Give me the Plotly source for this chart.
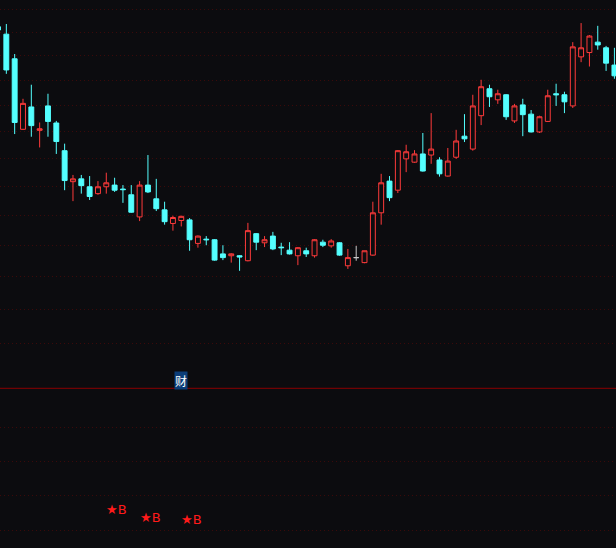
import plotly.graph_objects as go

# ---------------- data ----------------
opens = [16.62, 16.46, 15.94, 14.54, 14.97, 14.52, 14.99, 14.66, 14.14, 13.58,
         13.63, 13.49, 13.37, 13.49, 13.52, 13.45, 13.35, 12.97, 13.52, 13.28,
         13.09, 12.86, 12.91, 12.92, 12.53, 12.60, 12.59, 12.36, 12.33, 12.33,
         12.25, 12.69, 12.54, 12.65, 12.47, 12.42, 12.33, 12.41, 12.33, 12.55,
         12.49, 12.54, 12.17, 12.30, 12.22, 12.34, 13.04, 13.59, 13.43, 13.99,
         13.93, 14.08, 14.06, 13.97, 13.68, 14.02, 14.41, 14.17, 14.80, 15.33,
         15.11, 15.21, 14.70, 15.01, 14.83, 14.49, 14.69, 15.23, 15.21, 14.99,
         15.98, 16.07, 16.29, 16.17, 15.81]
highs = [16.64, 16.68, 16.04, 15.13, 15.41, 14.67, 15.23, 14.70, 14.27, 13.70,
         13.70, 13.68, 13.59, 13.74, 13.65, 13.52, 13.52, 13.59, 14.06, 13.63,
         13.23, 12.99, 12.99, 12.95, 12.66, 12.65, 12.60, 12.50, 12.37, 12.34,
         12.87, 12.70, 12.65, 12.72, 12.54, 12.55, 12.47, 12.46, 12.60, 12.59,
         12.60, 12.55, 12.44, 12.49, 12.41, 13.23, 13.72, 13.68, 14.15, 14.25,
         14.15, 14.47, 14.85, 14.02, 14.19, 14.53, 14.83, 15.21, 15.51, 15.41,
         15.31, 15.22, 15.03, 15.13, 14.91, 14.80, 15.31, 15.43, 15.27, 16.29,
         16.70, 16.44, 16.64, 16.21, 16.17]
lows = [16.53, 15.63, 14.45, 14.53, 14.40, 14.20, 14.40, 14.08, 13.43, 13.24,
        13.37, 13.26, 13.35, 13.37, 13.40, 13.21, 13.04, 12.90, 13.38, 13.07,
        12.84, 12.74, 12.81, 12.41, 12.46, 12.50, 12.25, 12.26, 12.22, 12.09,
        12.24, 12.42, 12.47, 12.42, 12.34, 12.35, 12.18, 12.31, 12.30, 12.47,
        12.46, 12.33, 12.12, 12.25, 12.21, 12.33, 12.84, 13.24, 13.38, 13.75,
        13.92, 13.76, 13.90, 13.67, 13.67, 13.99, 14.30, 14.14, 14.62, 14.97,
        15.03, 14.72, 14.66, 14.41, 14.48, 14.47, 14.68, 14.99, 14.85, 14.95,
        15.87, 15.78, 16.13, 15.69, 15.53]
closes = [16.55, 15.71, 14.67, 15.04, 14.61, 14.55, 14.69, 14.31, 13.60, 13.63,
          13.51, 13.32, 13.49, 13.56, 13.43, 13.44, 13.05, 13.52, 13.40, 13.11,
          12.89, 12.96, 12.98, 12.59, 12.65, 12.59, 12.26, 12.30, 12.36, 12.31,
          12.74, 12.55, 12.59, 12.44, 12.46, 12.36, 12.46, 12.36, 12.59, 12.50,
          12.57, 12.34, 12.30, 12.30, 12.41, 13.04, 13.56, 13.30, 14.14, 14.12,
          14.08, 13.77, 14.17, 13.72, 13.95, 14.32, 14.36, 14.99, 15.37, 15.17,
          15.23, 14.78, 14.99, 14.82, 14.49, 14.78, 15.19, 15.21, 15.07, 16.19,
          16.17, 16.42, 16.23, 15.85, 15.59]

price_grid = [11.0, 11.5, 12.0, 12.5, 13.0, 13.5, 14.0, 14.5, 15.0, 15.5, 16.0, 16.5, 17.0]
sub_grid = [0, 1, 2, 3]

fin_label = "财"
fin_idx = 22
signal_idx = [13, 17, 22]
signal_val = [0.61, 0.36, 0.31]
signal_text = "★B"

# ---------------- styling ----------------
BG = "#0c0c0f"
RED = "#ff3b3b"
CYAN = "#54ffff"
GRAY = "#c8c8c8"
GRID = "#3c0a0a"

n = len(opens)
xs = list(range(n))

def subset(cond):
    idx = [i for i in range(n) if cond(opens[i], closes[i])]
    return ([xs[i] for i in idx], [opens[i] for i in idx], [highs[i] for i in idx],
            [lows[i] for i in idx], [closes[i] for i in idx])

fig = go.Figure()

def add_candles(cond, color, fill):
    x, o, h, l, c = subset(cond)
    if not x:
        return
    fig.add_trace(go.Candlestick(
        x=x, open=o, high=h, low=l, close=c,
        increasing=dict(line=dict(color=color, width=1), fillcolor=fill),
        decreasing=dict(line=dict(color=color, width=1), fillcolor=fill),
        whiskerwidth=0, showlegend=False, hoverinfo="skip",
        xaxis="x", yaxis="y"))

add_candles(lambda o, c: c > o, RED, BG)
add_candles(lambda o, c: c < o, CYAN, CYAN)
add_candles(lambda o, c: c == o, GRAY, GRAY)

# invisible trace to activate the lower panel
fig.add_trace(go.Scatter(x=signal_idx, y=signal_val, mode="markers",
                         marker=dict(size=1, color="rgba(0,0,0,0)"),
                         showlegend=False, hoverinfo="skip",
                         xaxis="x2", yaxis="y2"))

split = (548 - 388.3) / 548

fig.update_layout(
    width=616, height=548,
    margin=dict(l=0, r=0, t=0, b=0),
    paper_bgcolor=BG, plot_bgcolor=BG,
    boxgap=0.16,
    showlegend=False,
    hovermode=False,
    xaxis=dict(domain=[0, 1], range=[0.24, 74.19], anchor="y",
               showgrid=False, zeroline=False, showticklabels=False,
               rangeslider=dict(visible=False), fixedrange=True),
    xaxis2=dict(domain=[0, 1], range=[0.24, 74.19], anchor="y2", matches="x",
                showgrid=False, zeroline=False, showticklabels=False),
    yaxis=dict(domain=[split, 1], type="log", range=[1.01590, 1.23578],
               tickvals=price_grid, showticklabels=False, showgrid=True,
               gridcolor=GRID, griddash="1px,3px", gridwidth=1, zeroline=False),
    yaxis2=dict(domain=[0, split], range=[-0.522, 4.138],
                tickvals=sub_grid, showticklabels=False, showgrid=True,
                gridcolor=GRID, griddash="1px,3px", gridwidth=1, zeroline=False),
)

# separator line between panels
fig.add_shape(type="line", xref="paper", yref="paper", x0=0, x1=1, y0=split, y1=split,
              line=dict(color="#8a0000", width=1))

# financial-report marker
fig.add_annotation(x=fin_idx, xref="x", y=(548 - 380.5) / 548, yref="paper",
                   text=fin_label, showarrow=False,
                   font=dict(family="Noto Sans CJK SC", size=12, color="#ffffff"),
                   bgcolor="#0b3d78", borderpad=0, xanchor="center", yanchor="middle")

# buy signals in the lower panel
for xi, yv in zip(signal_idx, signal_val):
    fig.add_annotation(x=xi, xref="x2", y=yv, yref="y2", text=signal_text,
                       showarrow=False, xanchor="left", yanchor="middle",
                       font=dict(family="DejaVu Sans", size=13, color="#ff1a1a"),
                       borderpad=0, xshift=-1)

fig.write_html(
    "out.html",
    config={"displayModeBar": False, "staticPlot": True},
    post_script="document.body.style.margin='0';document.body.style.padding='0';"
                "document.body.style.overflow='hidden';"
                "document.documentElement.style.background='" + BG + "';",
)
